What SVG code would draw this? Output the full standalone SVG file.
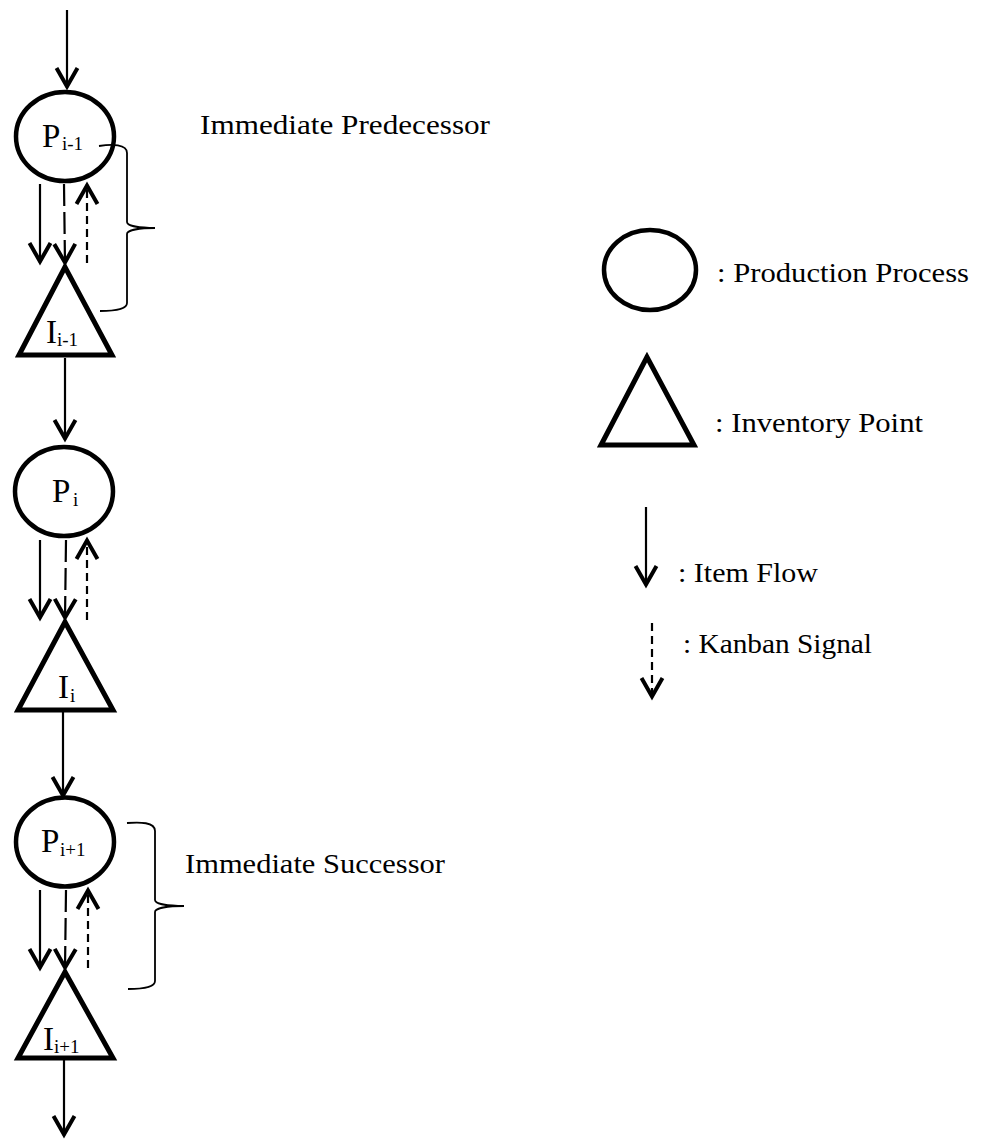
<svg xmlns="http://www.w3.org/2000/svg" width="983" height="1140" viewBox="0 0 983 1140">
  <style>
    .proc { fill: #fff; stroke: #000; stroke-width: 4.5; }
    .inv { fill: #fff; stroke: #000; stroke-width: 5; stroke-linejoin: miter; }
    .flow { fill: none; stroke: #000; stroke-width: 2.2; }
    .kanban-down { fill: none; stroke: #000; stroke-width: 2.2; stroke-dasharray: 22 6; }
    .kanban-up { fill: none; stroke: #000; stroke-width: 2.2; stroke-dasharray: 8 5; }
    .brace { fill: none; stroke: #000; stroke-width: 1.8; }
    .sym { font-family: "Liberation Serif", "Times New Roman", serif; fill: #000; }
    .main { font-size: 33px; }
    .sub { font-size: 19px; }
    .note { font-family: "Liberation Serif", "Times New Roman", serif; font-size: 28px; fill: #000; }
  </style>
  <defs>
    <marker id="head" markerUnits="userSpaceOnUse" viewBox="-26 -14 30 28" markerWidth="30" markerHeight="28" refX="0" refY="0" orient="auto" overflow="visible">
      <path d="M-20,-10.5 L-1.5,0 L-20,10.5" fill="none" stroke="#000" stroke-width="4" stroke-dasharray="none" stroke-linejoin="miter"/>
    </marker>
  </defs>

  <!-- process / inventory chain -->
  <g id="node-p-im1">
    <ellipse class="proc" cx="65" cy="136.5" rx="49" ry="44.5"/>
    <text class="sym main" x="42" y="147">P</text>
    <text class="sym sub" x="62" y="150">i-1</text>
  </g>
  <g id="node-i-im1">
    <polygon class="inv" points="65,267 19,355 112,355"/>
    <text class="sym main" x="46" y="343">I</text>
    <text class="sym sub" x="57" y="346">i-1</text>
  </g>
  <g id="node-p-i">
    <ellipse class="proc" cx="64" cy="491.5" rx="49" ry="44.5"/>
    <text class="sym main" x="52" y="502">P</text>
    <text class="sym sub" x="73" y="506">i</text>
  </g>
  <g id="node-i-i">
    <polygon class="inv" points="65,622 18,710 113,710"/>
    <text class="sym main" x="58" y="698">I</text>
    <text class="sym sub" x="70" y="702">i</text>
  </g>
  <g id="node-p-ip1">
    <ellipse class="proc" cx="65" cy="842" rx="49" ry="44.5"/>
    <text class="sym main" x="41" y="852">P</text>
    <text class="sym sub" x="60" y="856">i+1</text>
  </g>
  <g id="node-i-ip1">
    <polygon class="inv" points="65,972 18,1058 113,1058"/>
    <text class="sym main" x="43" y="1050">I</text>
    <text class="sym sub" x="54" y="1053">i+1</text>
  </g>

  <!-- connectors -->
  <g id="connectors">
    <line class="flow" x1="67" y1="10" x2="67" y2="88" marker-end="url(#head)"/>

    <line class="flow" x1="40" y1="184" x2="40" y2="263" marker-end="url(#head)"/>
    <line class="kanban-down" x1="64" y1="184" x2="65" y2="264" marker-end="url(#head)"/>
    <line class="kanban-up" x1="87" y1="263" x2="87" y2="184" marker-end="url(#head)"/>

    <line class="flow" x1="65" y1="358" x2="65" y2="440" marker-end="url(#head)"/>

    <line class="flow" x1="40" y1="540" x2="40" y2="619" marker-end="url(#head)"/>
    <line class="kanban-down" x1="66" y1="540" x2="65" y2="619" marker-end="url(#head)"/>
    <line class="kanban-up" x1="87" y1="620" x2="87" y2="539" marker-end="url(#head)"/>

    <line class="flow" x1="63" y1="712" x2="63" y2="797" marker-end="url(#head)"/>

    <line class="flow" x1="40" y1="890" x2="40" y2="969" marker-end="url(#head)"/>
    <line class="kanban-down" x1="66" y1="890" x2="65" y2="969" marker-end="url(#head)"/>
    <line class="kanban-up" x1="88" y1="968" x2="88" y2="889" marker-end="url(#head)"/>

    <line class="flow" x1="64" y1="1060" x2="64" y2="1136" marker-end="url(#head)"/>
  </g>

  <!-- braces and their labels -->
  <g id="brace-predecessor">
    <path class="brace" d="M99,146 C112,144 127,144 127,153 L127,222 C127,226 140,228 155,228 C140,228 127,230 127,234 L127,303 C127,310 113,311 100,311"/>
    <text class="note" x="200" y="134" textLength="290" lengthAdjust="spacingAndGlyphs">Immediate Predecessor</text>
  </g>
  <g id="brace-successor">
    <path class="brace" d="M127,823 C140,822 155,822 155,831 L155,900 C155,904 168,906 184,906 C168,906 155,908 155,912 L155,981 C155,988 141,989 128,989"/>
    <text class="note" x="185" y="873" textLength="260" lengthAdjust="spacingAndGlyphs">Immediate Successor</text>
  </g>

  <!-- legend -->
  <g id="legend-process">
    <ellipse class="proc" cx="650" cy="270" rx="46" ry="40"/>
    <text class="note" x="717" y="282" textLength="252" lengthAdjust="spacingAndGlyphs">: Production Process</text>
  </g>
  <g id="legend-inventory">
    <polygon class="inv" points="647,357 601,445 694,445"/>
    <text class="note" x="715" y="432" textLength="208" lengthAdjust="spacingAndGlyphs">: Inventory Point</text>
  </g>
  <g id="legend-flow">
    <line class="flow" x1="646" y1="507" x2="646" y2="586" marker-end="url(#head)"/>
    <text class="note" x="678" y="582" textLength="140" lengthAdjust="spacingAndGlyphs">: Item Flow</text>
  </g>
  <g id="legend-kanban">
    <line class="kanban-up" x1="652" y1="623" x2="652" y2="698" marker-end="url(#head)"/>
    <text class="note" x="683" y="653" textLength="189" lengthAdjust="spacingAndGlyphs">: Kanban Signal</text>
  </g>
</svg>
